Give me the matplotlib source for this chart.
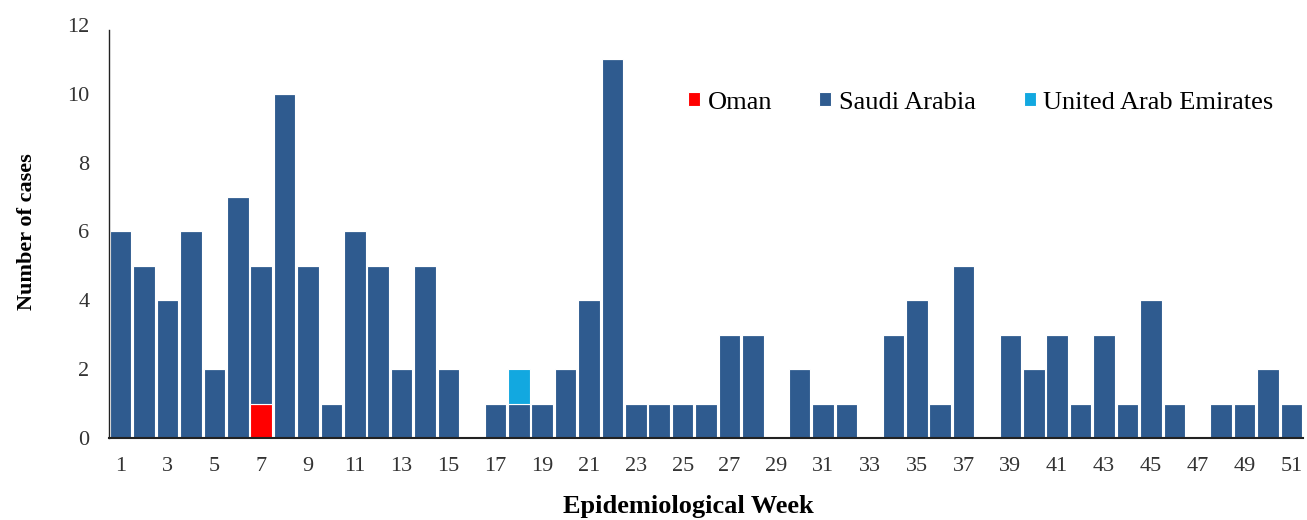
import matplotlib
matplotlib.use("Agg")
import matplotlib.pyplot as plt
import numpy as np

weeks = list(range(1, 52))
oman = [0]*51
oman[6] = 1
saudi = [6, 5, 4, 6, 2, 7, 4, 10, 5, 1, 6, 5, 2, 5, 2, 0, 1, 1, 1, 2, 4, 11,
         1, 1, 1, 1, 3, 3, 0, 2, 1, 1, 0, 3, 4, 1, 5, 0, 3, 2, 3, 1, 3, 1, 4,
         1, 0, 1, 1, 2, 1]
uae = [0]*51
uae[17] = 1
tick_labels = [str(w) for w in range(1, 52, 2)]

plt.rcParams['font.family'] = ['Liberation Serif', 'DejaVu Serif']

fig = plt.figure(figsize=(13.07, 5.2), dpi=100)
ax = fig.add_axes([0.0834, 0.1577, 0.9136, 0.7943])

x = np.array(weeks)
oman_a = np.array(oman)
saudi_a = np.array(saudi)
uae_a = np.array(uae)
w = 0.92
ax.bar(x, oman_a, width=w, color='#ff0000', edgecolor='white', linewidth=0.8, label='Oman')
ax.bar(x, saudi_a, width=w, bottom=oman_a, color='#2f5b8f', edgecolor='white', linewidth=0.8, label='Saudi Arabia')
ax.bar(x, uae_a, width=w, bottom=oman_a + saudi_a, color='#12a8e0', edgecolor='white', linewidth=0.8, label='United Arab Emirates')

ax.set_xlim(0.5, 51.5)
ax.set_ylim(0, 12)
ax.set_xticks(range(1, 52, 2))
ax.set_xticklabels(tick_labels)
ax.set_yticks(range(0, 13, 2))
ax.tick_params(axis='both', length=0, labelsize=16, labelcolor='#333333')
ax.tick_params(axis='x', pad=14)
ax.tick_params(axis='y', pad=14)
for s in ['top', 'right']:
    ax.spines[s].set_visible(False)
ax.spines['left'].set_color('#222222')
ax.spines['bottom'].set_color('#222222')
ax.spines['left'].set_linewidth(1.0)
ax.spines['bottom'].set_linewidth(1.5)
ax.spines['left'].set_bounds(0, 11.85)

ax.set_xlabel('Epidemiological Week', fontsize=19, fontweight='bold')
ax.xaxis.set_label_coords(0.485, -0.137)
ax.set_ylabel('Number of cases', fontsize=16, fontweight='bold', labelpad=22)

ax.legend(loc='center', bbox_to_anchor=(0.73, 0.812), ncol=3, frameon=False,
          fontsize=19, handlelength=0.45, handleheight=0.45, handletextpad=0.3,
          columnspacing=1.8)

fig.savefig('out.png', dpi=100)
